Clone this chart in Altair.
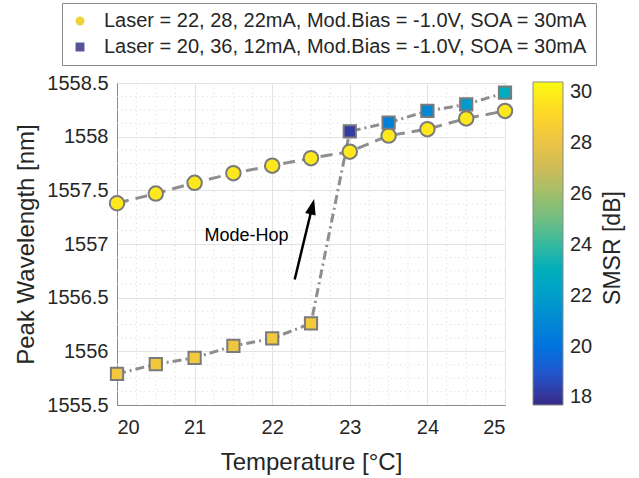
import altair as alt
import pandas as pd

# ---- measured data -------------------------------------------------------
temperature = [20.0, 20.5, 21.0, 21.5, 22.0, 22.5, 23.0, 23.5, 24.0, 24.5, 25.0]

series_a = "Laser = 22, 28, 22mA, Mod.Bias = -1.0V, SOA = 30mA"
series_b = "Laser = 20, 36, 12mA, Mod.Bias = -1.0V, SOA = 30mA"

wavelength_a = [1557.38, 1557.47, 1557.57, 1557.66, 1557.73, 1557.80,
                1557.86, 1558.01, 1558.07, 1558.17, 1558.24]
wavelength_b = [1555.79, 1555.88, 1555.94, 1556.05, 1556.12, 1556.26,
                1558.05, 1558.13, 1558.24, 1558.30, 1558.41]

smsr_a = [29.7, 29.7, 29.7, 29.7, 29.7, 29.7, 29.7, 29.7, 29.7, 29.7, 29.7]
smsr_b = [28.3, 28.4, 28.3, 28.2, 28.3, 28.5, 18.2, 20.6, 21.0, 21.8, 22.8]

# axis ticks
x_ticks = [20, 21, 22, 23, 24, 25]
y_ticks = [1555.5, 1556.0, 1556.5, 1557.0, 1557.5, 1558.0, 1558.5]
smsr_ticks = [18, 20, 22, 24, 26, 28, 30]
smsr_range = [17.7, 30.4]
colorbar_title = "SMSR [dB]"

# annotation
arrow_tail = [22.29, 1556.67]
arrow_tip = [22.54, 1557.42]
annotation_text = "Mode-Hop"
annotation_pos = [21.67, 1557.07]

# parula colour map stops
parula = ["#352a87", "#0363e1", "#1485d4", "#06a7c6", "#38b99e",
          "#92bf73", "#d9ba56", "#fcce2e", "#f9fb0e"]

# ---- tables ---------------------------------------------------------------
df = pd.DataFrame({
    "temp": temperature * 2,
    "wl": wavelength_a + wavelength_b,
    "smsr": smsr_a + smsr_b,
    "series": [series_a] * len(temperature) + [series_b] * len(temperature),
})

# minor grid positions (quarter degree, eighth nanometre)
x_minor = [x_ticks[0] + 0.25 * i for i in range(1, 4 * (x_ticks[-1] - x_ticks[0]))
           if i % 4 != 0]
y_minor = [y_ticks[0] + 0.125 * i for i in range(1, 24) if i % 4 != 0]

n = len(parula) - 1
color_domain = [smsr_range[0] + (smsr_range[1] - smsr_range[0]) * i / n for i in range(n + 1)]

GRID = "#e3e3e3"
AXIS = "#8a8a8a"
LINE = "#8e8e8e"
TEXT = "#262626"
FONT = "Liberation Sans"

x_scale = alt.Scale(domain=[20, 25], nice=False, zero=False)
y_scale = alt.Scale(domain=[1555.5, 1558.5], nice=False, zero=False)

x_enc = alt.X("temp:Q", scale=x_scale,
              axis=alt.Axis(values=x_ticks, format="d", title="Temperature [°C]",
                            labelPadding=12, titlePadding=13))
y_enc = alt.Y("wl:Q", scale=y_scale,
              axis=alt.Axis(values=y_ticks, format=".1~f", title="Peak Wavelength [nm]",
                            labelPadding=9, titlePadding=8))

# dotted minor grid
minor_x = alt.Chart(pd.DataFrame({"temp": x_minor})).mark_rule(
    color=GRID, strokeDash=[1.5, 3], strokeWidth=1
).encode(x=alt.X("temp:Q", scale=x_scale))
minor_y = alt.Chart(pd.DataFrame({"wl": y_minor})).mark_rule(
    color=GRID, strokeDash=[1.5, 3], strokeWidth=1
).encode(y=alt.Y("wl:Q", scale=y_scale))

base = alt.Chart(df)

line_a = base.transform_filter(alt.datum.series == series_a).mark_line(
    color=LINE, strokeWidth=3, strokeDash=[12, 7]
).encode(x=x_enc, y=y_enc, order="temp:Q")
line_b = base.transform_filter(alt.datum.series == series_b).mark_line(
    color=LINE, strokeWidth=3, strokeDash=[9, 4, 2, 4]
).encode(x=x_enc, y=y_enc, order="temp:Q")

fill_enc = alt.Fill(
    "smsr:Q",
    scale=alt.Scale(domain=color_domain, range=parula, nice=False, zero=False),
    legend=alt.Legend(
        title=None, orient="none", legendX=416, legendY=-1,
        direction="vertical", gradientLength=323, gradientThickness=30,
        gradientStrokeColor=AXIS, gradientStrokeWidth=1,
        values=smsr_ticks, labelFontSize=20, labelOffset=7, labelColor=TEXT,
        padding=0, labelOverlap=False,
    ),
)

pts_a = base.transform_filter(alt.datum.series == series_a).mark_point(
    shape="circle", filled=True, size=210, stroke="#7a7a7a", strokeWidth=2, opacity=1
).encode(x=x_enc, y=y_enc, fill=fill_enc)
pts_b = base.transform_filter(alt.datum.series == series_b).mark_point(
    shape="square", filled=True, size=150, stroke="#7a7a7a", strokeWidth=2, opacity=1
).encode(x=x_enc, y=y_enc, fill=fill_enc)

# colour bar label, read bottom to top
cbar_title = alt.Chart(pd.DataFrame({"t": [colorbar_title]})).mark_text(
    angle=270, fontSize=23, color=TEXT, font=FONT, align="center", baseline="middle"
).encode(x=alt.value(496), y=alt.value(165), text="t:N")

# series legend (symbols only)
legend_props = dict(
    title=None, orient="none", legendX=-55, legendY=-80, direction="vertical",
    strokeColor=AXIS, fillColor="white", padding=8, labelFontSize=20,
    labelColor=TEXT, labelLimit=800, symbolSize=80, symbolOpacity=1,
    symbolStrokeColor="#9a9a9a", symbolStrokeWidth=1.5, rowPadding=6,
    labelOffset=14,
)
series_key = base.mark_point(
    filled=True, opacity=0, stroke="#9a9a9a", strokeWidth=1.5
).encode(
    x=x_enc, y=y_enc,
    color=alt.Color("series:N",
                    scale=alt.Scale(domain=[series_a, series_b], range=["#eed23a", "#56559a"]),
                    legend=alt.Legend(**legend_props)),
    shape=alt.Shape("series:N",
                    scale=alt.Scale(domain=[series_a, series_b], range=["circle", "square"]),
                    legend=alt.Legend(**legend_props)),
)

# mode-hop arrow
frac = 0.86
arrow_df = pd.DataFrame({
    "x": [arrow_tail[0]], "y": [arrow_tail[1]],
    "x2": [arrow_tail[0] + frac * (arrow_tip[0] - arrow_tail[0])],
    "y2": [arrow_tail[1] + frac * (arrow_tip[1] - arrow_tail[1])],
})
arrow_line = alt.Chart(arrow_df).mark_rule(color="black", strokeWidth=2.5).encode(
    x=alt.X("x:Q", scale=x_scale), y=alt.Y("y:Q", scale=y_scale),
    x2="x2:Q", y2="y2:Q",
)
arrow_head = alt.Chart(pd.DataFrame({"x": [arrow_tip[0]], "y": [arrow_tip[1]]})).mark_point(
    shape="M0,0 L0.34,1 L-0.34,1 Z", filled=True, color="black", size=1000,
    angle=13.5, opacity=1,
).encode(x=alt.X("x:Q", scale=x_scale), y=alt.Y("y:Q", scale=y_scale))

label = alt.Chart(pd.DataFrame({"x": [annotation_pos[0]], "y": [annotation_pos[1]],
                                "t": [annotation_text]})).mark_text(
    fontSize=18, color="black", font=FONT
).encode(x=alt.X("x:Q", scale=x_scale), y=alt.Y("y:Q", scale=y_scale), text="t:N")

chart = alt.layer(
    minor_x, minor_y, line_a, line_b, pts_a, pts_b, arrow_line, arrow_head, label,
    cbar_title, series_key
).properties(
    width=388, height=322,
    padding={"left": 117, "top": 83, "right": 134, "bottom": 73},
    autosize=alt.AutoSizeParams(type="none"),
).configure(font=FONT, background="white").configure_view(
    stroke=AXIS, strokeWidth=1
).configure_axis(
    grid=True, gridColor=GRID, gridWidth=1,
    domainColor=AXIS, domainWidth=1, ticks=False,
    labelFontSize=20, labelColor=TEXT, labelFont=FONT,
    titleFontSize=24, titleFontWeight="normal", titleColor=TEXT, titleFont=FONT,
)

chart.save("out.html", embed_options={"renderer": "svg", "actions": False})
